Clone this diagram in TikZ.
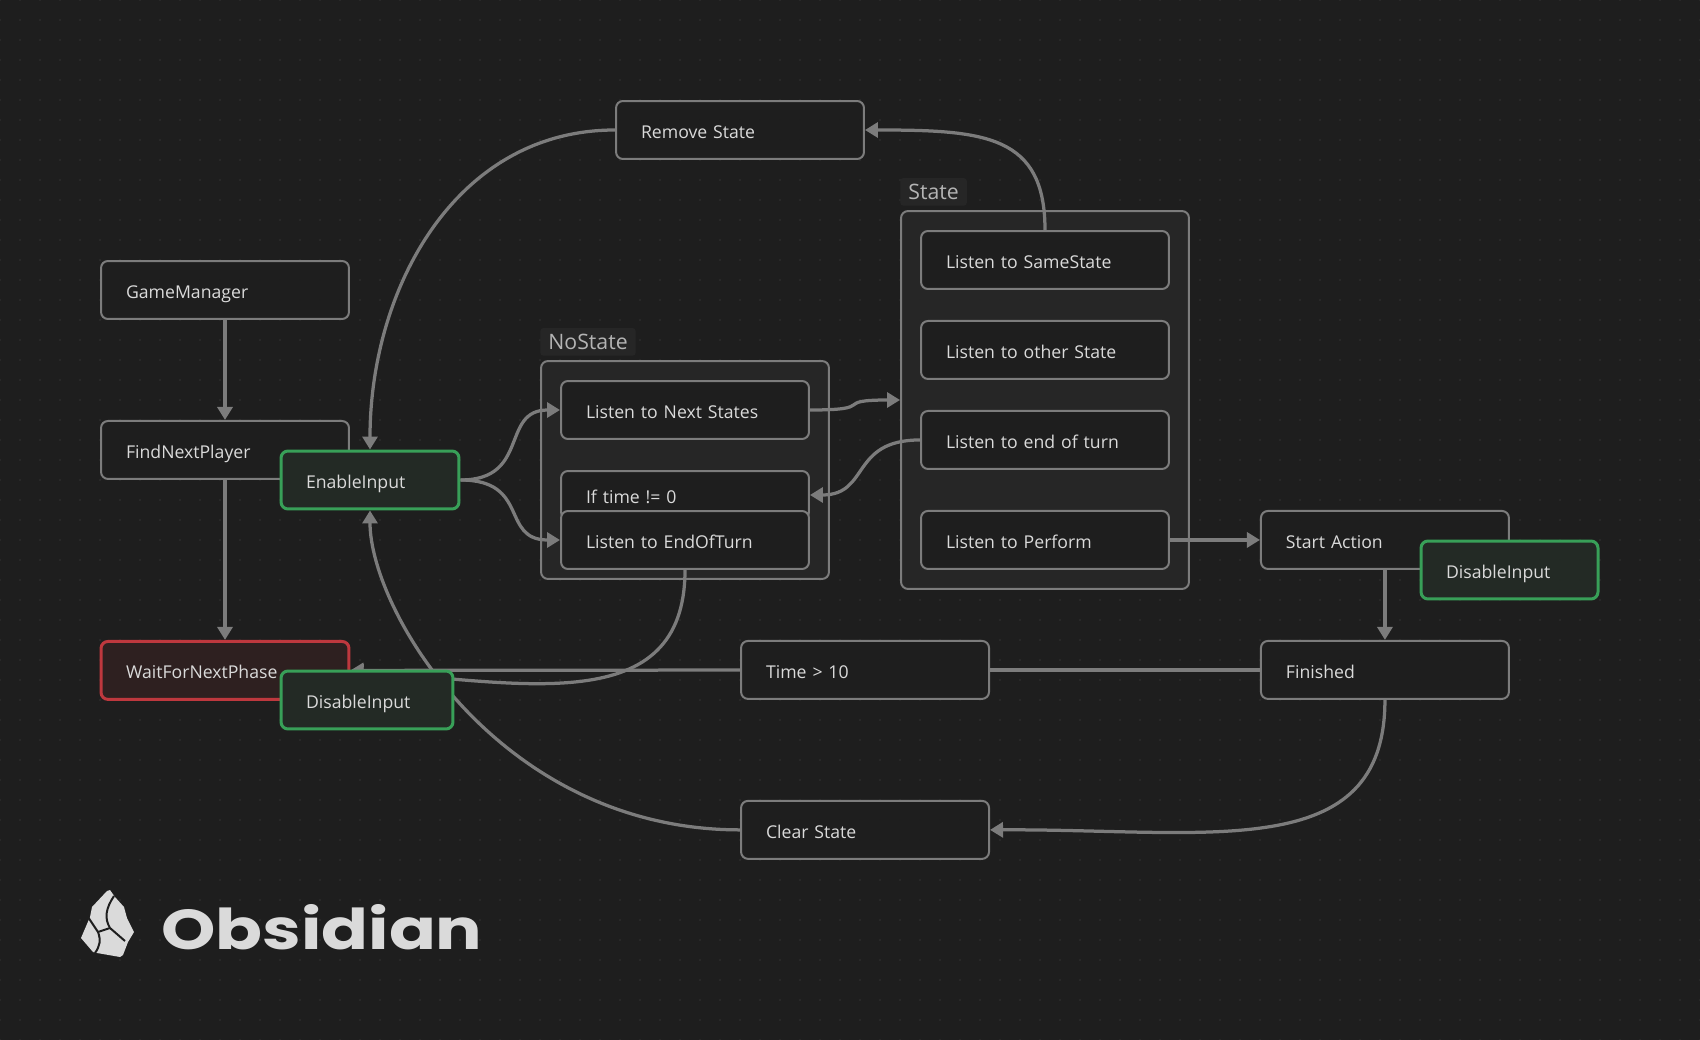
\documentclass[tikz,border=0pt]{standalone}
\usepackage{fontspec}
\setmainfont{Open Sans}
\newfontfamily\logofont[FakeStretch=1.23]{Poppins}
\usetikzlibrary{positioning,arrows.meta}
\definecolor{CanvasBack}{RGB}{30,30,30}
\definecolor{CanvasDot}{RGB}{52,52,52}
\definecolor{GroupFill}{RGB}{38,38,38}
\definecolor{LineGray}{RGB}{124,124,124}
\definecolor{TextGray}{RGB}{218,218,218}
\definecolor{ChipText}{RGB}{180,180,180}
\definecolor{GreenLine}{RGB}{56,160,88}
\definecolor{GreenFill}{RGB}{35,42,37}
\definecolor{RedLine}{RGB}{190,56,62}
\definecolor{RedFill}{RGB}{46,32,32}
\pgfdeclarelayer{back}
\pgfdeclarelayer{edges}
\pgfsetlayers{back,edges,main}
\tikzset{
	statebox/.style={draw=LineGray,fill=CanvasBack,text=TextGray,line width=0.04cm,rounded corners=0.14cm,
		text width=#1,align=left,inner xsep=0.5cm,inner ysep=0cm,minimum height=1.16cm,
		text height=0.44cm,text depth=0.1cm,font=\fontsize{10.05}{12}\selectfont},
	statebox/.default=3.96cm,
	greenbox/.style={statebox=#1,draw=GreenLine,fill=GreenFill,line width=0.06cm},
	redbox/.style={statebox,draw=RedLine,fill=RedFill,line width=0.06cm},
	groupbox/.style={draw=LineGray,fill=GroupFill,line width=0.04cm,rounded corners=0.14cm,inner sep=0pt},
	grouplabel/.style={fill=GroupFill,text=ChipText,rounded corners=0.06cm,inner xsep=0.16cm,inner ysep=0.12cm,font=\fontsize{12.1}{14}\selectfont},
	flow/.style={draw=LineGray,line width=0.065cm,-{Triangle[length=0.26cm,width=0.3cm]}},
	flowplain/.style={draw=LineGray,line width=0.065cm},
}
\begin{document}
\begin{tikzpicture}[x=0.02cm,y=-0.02cm]
	\useasboundingbox (0,0) rectangle (1700,1040);
	
	\begin{pgfonlayer}{back}
		\fill[CanvasBack] (0,0) rectangle (1700,1040);
		\foreach \dotx in {0,20,...,1700}
		\foreach \doty in {0,20,...,1040}
		\fill[CanvasDot] (\dotx,\doty) circle (0.016cm);
		
		\node[groupbox,minimum width=5.76cm,minimum height=4.36cm] (NoState) at (685,470) {};
		\node[groupbox,minimum width=5.76cm,minimum height=7.56cm] (State) at (1045,400) {};
		\node[grouplabel,above right=0.08cm and 0cm of NoState.north west] (NoLabel) {NoState};
		\node[grouplabel,above right=0.08cm and 0cm of State.north west] (StateLabel) {State};
	\end{pgfonlayer}
	
	\node[statebox] (GM) at (225,290) {GameManager};
	\node[statebox,below=2cm of GM] (FN) {FindNextPlayer};
	\node[redbox,below=3.2cm of FN] (WP) {WaitForNextPhase};
	\node[greenbox=2.56cm] (EI) at (370,480) {EnableInput};
	\node[greenbox=2.44cm] (DL) at (367,700) {DisableInput};
	
	\node[statebox] (RS) at (740,130) {Remove State};
	
	\node[statebox] (LN) at (685,410) {Listen to Next States};
	\node[statebox,minimum height=0.96cm] (IT) at (685,495) {If time != 0};
	\node[statebox] (LE) at (685,540) {Listen to EndOfTurn};
	
	\node[statebox] (LS) at (1045,260) {Listen to SameState};
	\node[statebox,below=0.6cm of LS] (LO) {Listen to other State};
	\node[statebox,below=0.6cm of LO] (LT) {Listen to end of turn};
	\node[statebox,below=0.8cm of LT] (LP) {Listen to Perform};
	
	\node[statebox,right=1.8cm of LP] (SA) {Start Action};
	\node[greenbox=2.54cm] (DR) at (1509.5,570) {DisableInput};
	\node[statebox,below=1.4cm of SA] (FI) {Finished};
	\node[statebox,left=5.4cm of FI] (TM) {Time > 10};
	\node[statebox,below=2cm of TM] (CS) {Clear State};
	
	\begin{pgfonlayer}{edges}
		\draw[flow] (GM) -- (FN);
		\draw[flow] (FN) -- (WP);
		\draw[flow] (RS.west) .. controls +(-160,0) and +(0,-160) .. (EI.north);
		\draw[flow] (LS.north) .. controls +(0,-95) and +(120,0) .. (RS.east);
		\draw[flow] (EI.east) .. controls +(70,0) and +(-60,0) .. (LN.west);
		\draw[flow] (EI.east) .. controls +(70,0) and +(-60,0) .. (LE.west);
		\draw[flow] (LN.east) .. controls +(70,0) and +(-70,0) .. (State.west);
		\draw[flow] (LT.west) .. controls +(-70,0) and +(60,0) .. (IT.east);
		\draw[flow] (LP) -- (SA);
		\draw[flow] (SA) -- (FI);
		\draw[flowplain] (FI) -- (TM);
		\draw[flow] (TM) -- (WP.east);
		\draw[flow] (LE.south) .. controls +(0,150) and +(170,12) .. (WP.east);
		\draw[flow] (FI.south) .. controls +(0,165) and +(220,-1) .. (CS.east);
		\draw[flow] (CS.west) .. controls +(-240,0) and +(0,100) .. (EI.south);
	\end{pgfonlayer}
	
	% logo
	\fill[TextGray] (110,890) -- (115,897) -- (124,907) -- (127,918) -- (134,932) -- (128,942) -- (123,955) -- (120,957)
	-- (97,953) -- (93,952) -- (81,938) -- (90,917) -- (92,907) -- (107,891) -- cycle;
	\draw[CanvasBack,line width=0.04cm] (114,896) .. controls (106,908) and (104,918) .. (110,928) -- (125,941);
	\draw[CanvasBack,line width=0.04cm] (88,917) -- (98,932) .. controls (101,940) and (100,946) .. (95,953);
	\draw[CanvasBack,line width=0.04cm] (98,932) -- (110,928);
	\node[text=TextGray,anchor=base west,inner sep=0pt,font=\logofont\bfseries\fontsize{32}{36}\selectfont] (Logo) at (161,949) {Obsidian};
\end{tikzpicture}
\end{document}
